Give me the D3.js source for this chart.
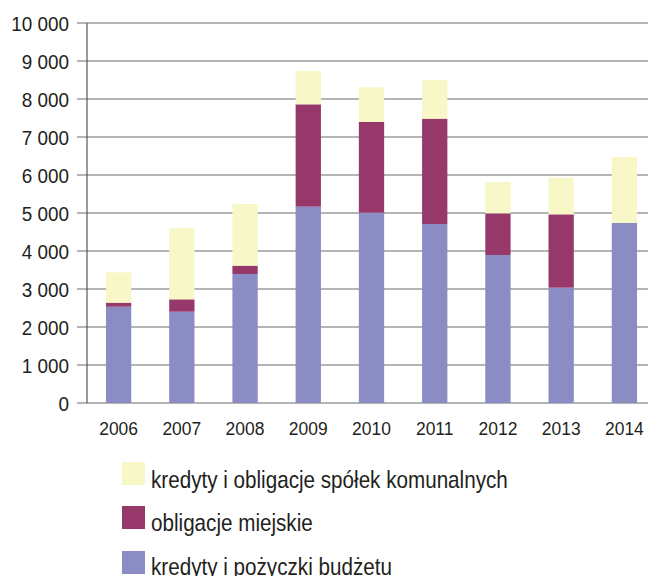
<!DOCTYPE html>
<html><head><meta charset="utf-8">
<script src="https://cdn.jsdelivr.net/npm/d3@7"></script>
<style>
html,body{margin:0;padding:0;background:#fff;}
svg{display:block;}
text{font-family:"Liberation Sans",Arial,sans-serif;fill:#231f20;}
</style></head>
<body><svg id="c" width="648" height="576"></svg>
<script>
const years = ["2006","2007","2008","2009","2010","2011","2012","2013","2014"];
const budzet = [2534, 2403, 3395, 5167, 5008, 4710, 3895, 3035, 4737];
const miejskie = [106, 325, 219, 2693, 2387, 2772, 1096, 1930, 0];
const spolki = [799, 1872, 1623, 877, 912, 1018, 825, 965, 1737];
const seriesNames = ["kredyty i pożyczki budżetu","obligacje miejskie","kredyty i obligacje spółek komunalnych"];
const colors = ["#8b8cc3","#96386a","#f8f7c8"];
const yTicks = [0,1000,2000,3000,4000,5000,6000,7000,8000,9000,10000];
const fmt = v => v >= 1000 ? d3.format(",")(v).replace(/,/g," ") : String(v);

const svg = d3.select("#c");
const x0 = 87, x1 = 656, yTop = 23, yBot = 403;
const x = d3.scaleBand().domain(years).range([x0, x1]).paddingInner(0.6).paddingOuter(0.3);
const y = d3.scaleLinear().domain([0,10000]).range([yBot, yTop]);

// grid
svg.append("g").selectAll("line").data(yTicks).join("line")
  .attr("x1", 77).attr("x2", 648)
  .attr("y1", d => y(d)).attr("y2", d => y(d))
  .attr("stroke", "#6b6b6b").attr("stroke-width", 1.2);

// y axis line
svg.append("line").attr("x1", x0).attr("x2", x0).attr("y1", y(10000)).attr("y2", y(0))
  .attr("stroke", "#555").attr("stroke-width", 1.2);

// y labels
svg.append("g").selectAll("text").data(yTicks).join("text")
  .attr("transform", d => `translate(69,${y(d) + 7.5}) scale(0.9,1)`)
  .attr("text-anchor", "end").attr("font-size", 21).text(fmt);

// stacked bars
const data = years.map((yr,i) => ({year: yr, b: budzet[i], m: miejskie[i], s: spolki[i]}));
const stack = d3.stack().keys(["b","m","s"])(data);
svg.append("g").selectAll("g").data(stack).join("g")
  .attr("fill", (d,i) => colors[i])
  .selectAll("rect").data(d => d).join("rect")
  .attr("x", d => x(d.data.year)).attr("width", x.bandwidth())
  .attr("y", d => y(d[1])).attr("height", d => Math.max(0, y(d[0]) - y(d[1])));

// x labels
svg.append("g").selectAll("text").data(years).join("text")
  .attr("transform", d => `translate(${x(d) + x.bandwidth()/2},434.5) scale(0.92,1)`)
  .attr("text-anchor", "middle").attr("font-size", 19).text(d => d);

// legend
const legendOrder = [2,1,0];
const legY = [462, 506, 551];
const legBase = [488, 531, 575];
const lg = svg.append("g").selectAll("g").data(legendOrder).join("g");
lg.append("rect").attr("x", 122).attr("y", (d,i) => legY[i])
  .attr("width", 23).attr("height", 23).attr("fill", d => colors[d]);
const lt = lg.append("text").attr("font-size", 24).text(d => seriesNames[d]);
// condense legend text so the longest entry matches the reference width
const w0 = lt.nodes()[0].getComputedTextLength();
const s = 357 / w0;
lt.attr("transform", (d,i) => `translate(151,${legBase[i]}) scale(${s},1)`);
</script></body></html>
